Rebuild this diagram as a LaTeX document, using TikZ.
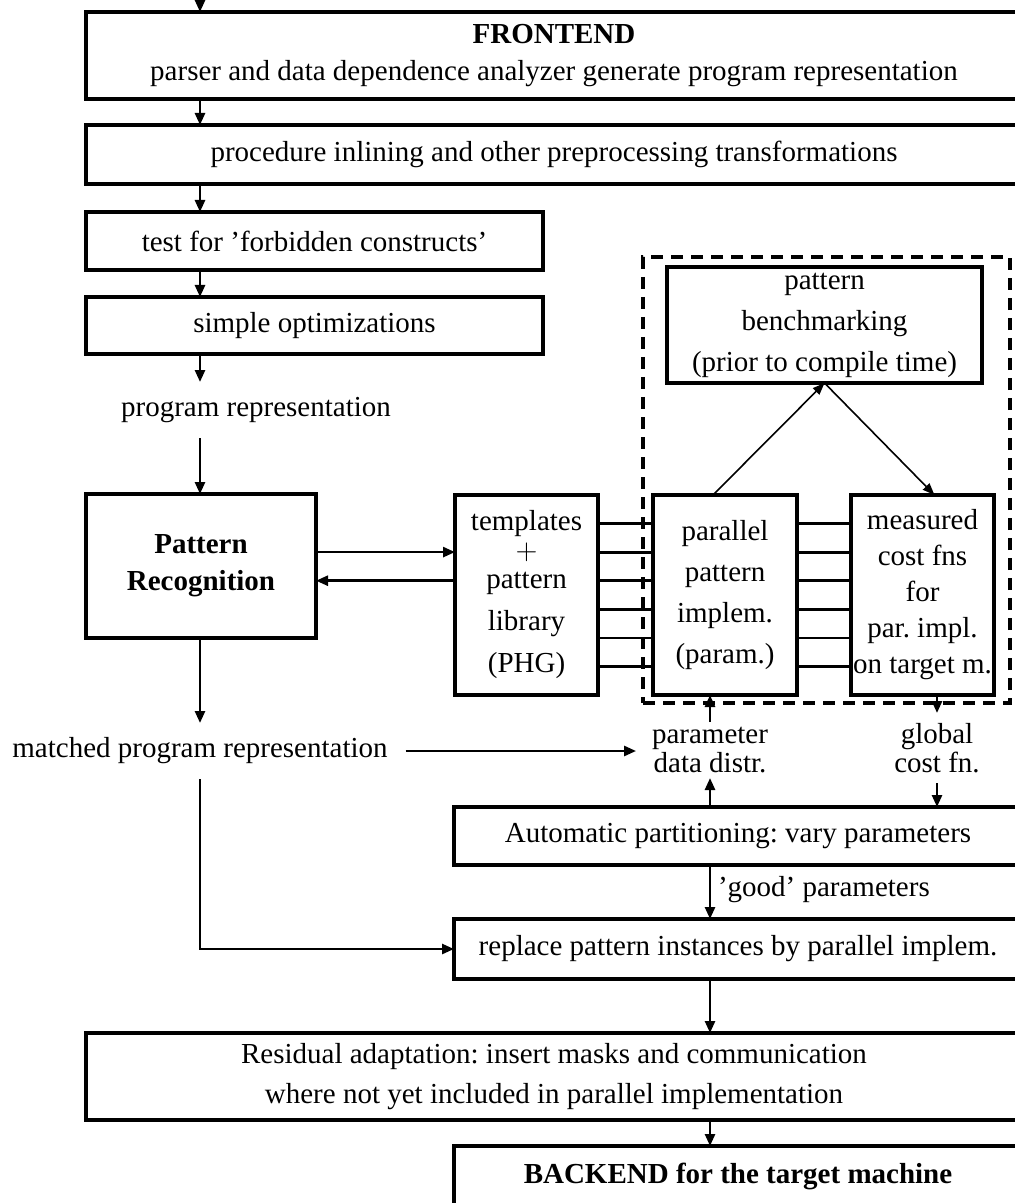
\documentclass[tikz,border=0pt]{standalone}
\usepackage{fontspec}
\setmainfont{Liberation Serif}
\usetikzlibrary{arrows.meta,calc}
\frenchspacing
\begin{document}
\begin{tikzpicture}[x=0.5pt,y=-0.5pt,
  box/.style={draw,line width=2pt,inner sep=0pt,outer sep=0pt,align=center,font=\fontsize{14.5}{18.5}\selectfont},
  lbl/.style={inner sep=0pt,outer sep=0pt,align=center,font=\fontsize{14.5}{12.5}\selectfont},
  arr/.style={line width=1.3pt,-{Triangle[length=6pt,width=5pt]}},
  bundle/.style={line width=1.4pt},
  diag/.style={line width=0.8pt,-{Triangle[length=6pt,width=4.5pt]}},
  frame/.style={draw,line width=2pt,dash pattern=on 6pt off 4pt,inner sep=0pt,outer sep=0pt}
]
\useasboundingbox (0,0) rectangle (1015,1203);
\clip (0,0) rectangle (1015,1203);

\node[box,minimum width=468pt,minimum height=43.5pt] (front) at (554,55.5)
  {\textbf{FRONTEND}\\parser and data dependence analyzer generate program representation};
\node[box,minimum width=468pt,minimum height=29.5pt] (inline) at (554,154.5)
  {procedure inlining and other preprocessing transformations};
\node[box,minimum width=228.5pt,minimum height=29pt] (forbid) at (314.5,241)
  {test for ’forbidden constructs’};
\node[box,minimum width=228.5pt,minimum height=28.5pt] (simple) at (314.5,325.5)
  {simple optimizations};
\node[lbl,minimum height=28pt] (progrep) at (256,410) {program representation};
\node[box,minimum width=115pt,minimum height=72pt] (pr) at (201,566)
  {\textbf{Pattern}\\\textbf{Recognition}};

\node[frame,minimum width=183.5pt,minimum height=223pt] (group) at (826.5,480) {};
\node[box,minimum width=71.5pt,minimum height=100pt,font=\fontsize{14.5}{21}\selectfont] (tmpl) at (526.5,595)
  {templates\\[-6.5pt]$+$\\[-6.5pt]pattern\\library\\(PHG)};
\node[box,minimum width=72pt,minimum height=100pt,font=\fontsize{14.5}{20.5}\selectfont] (par) at (725,595)
  {parallel\\pattern\\implem.\\(param.)};
\node[box,minimum width=71.5pt,minimum height=100pt,font=\fontsize{14.5}{18}\selectfont] (meas) at (922.5,595)
  {measured\\cost fns\\for\\par. impl.\\on target m.};
\node[box,minimum width=157.5pt,minimum height=58pt,font=\fontsize{14.5}{20.5}\selectfont] (bench) at (824.5,325)
  {pattern\\benchmarking\\(prior to compile time)};

\node[lbl,minimum height=28pt,inner xsep=9pt] (matched) at (200,751) {matched program representation};
\node[lbl,minimum height=28pt,inner xsep=8pt] (param) at (710,750) {parameter\\data distr.};
\node[lbl,minimum height=35pt] (global) at (937,748) {global\\cost fn.};

\node[box,minimum width=284pt,minimum height=29pt] (auto) at (738,836)
  {Automatic partitioning: vary parameters};
\node[lbl,anchor=west] (good) at (718,890) {’good’ parameters};
\node[box,minimum width=284pt,minimum height=30pt] (repl) at (738,949)
  {replace pattern instances by parallel implem.};
\node[box,minimum width=468pt,minimum height=43.5pt,font=\fontsize{14.5}{20}\selectfont] (resid) at (554,1076.5)
  {Residual adaptation: insert masks and communication\\where not yet included in parallel implementation};
\node[box,anchor=north,minimum width=284pt,text height=10pt,text depth=30pt,inner ysep=8.5pt] (back) at (738,1146)
  {\textbf{BACKEND for the target machine}};

% main column
\coordinate (colA) at (200,0);
\draw[arr] (colA) -- (colA |- front.north);
\draw[arr] (colA |- front.south) -- (colA |- inline.north);
\draw[arr] (colA |- inline.south) -- (colA |- forbid.north);
\draw[arr] (colA |- forbid.south) -- (colA |- simple.north);
\draw[arr] (colA |- simple.south) -- (colA |- progrep.north);
\draw[arr] (colA |- progrep.south) -- (colA |- pr.north);
\draw[arr] (colA |- pr.south) -- (colA |- matched.north);
\draw[arr] (matched.east) -- (matched.east -| param.west);
\draw[arr] (colA |- matched.south) |- (repl.west);

% bundles
\foreach \d [count=\i] in {35.75,21.45,7.15,-7.15,-21.45,-35.75}
  {\coordinate (r\i) at ([yshift=\d pt]tmpl.center);}
\foreach \i in {1,...,6} {
  \draw[bundle] (tmpl.east |- r\i) -- (par.west |- r\i);
  \draw[bundle] (par.east |- r\i) -- (meas.west |- r\i);
}
\draw[arr] (pr.east |- r2) -- (tmpl.west |- r2);
\draw[arr] (tmpl.west |- r3) -- (pr.east |- r3);

% benchmarking
\draw[diag] ([xshift=-6pt]par.north) -- (bench.south);
\draw[diag] (bench.south) -- ([xshift=6pt]meas.north);

% parameters
\draw[arr] (param.north) -- (param.north |- par.south);
\draw[arr] (param |- auto.north) -- (param.south);
\draw[arr] (global.north |- meas.south) -- (global.north);
\draw[arr] (global.south) -- (global.south |- auto.north);
\draw[arr] (param |- auto.south) -- (param |- repl.north);
\draw[arr] (param |- repl.south) -- (param |- resid.north);
\draw[arr] (param |- resid.south) -- (param |- back.north);
\end{tikzpicture}
\end{document}
